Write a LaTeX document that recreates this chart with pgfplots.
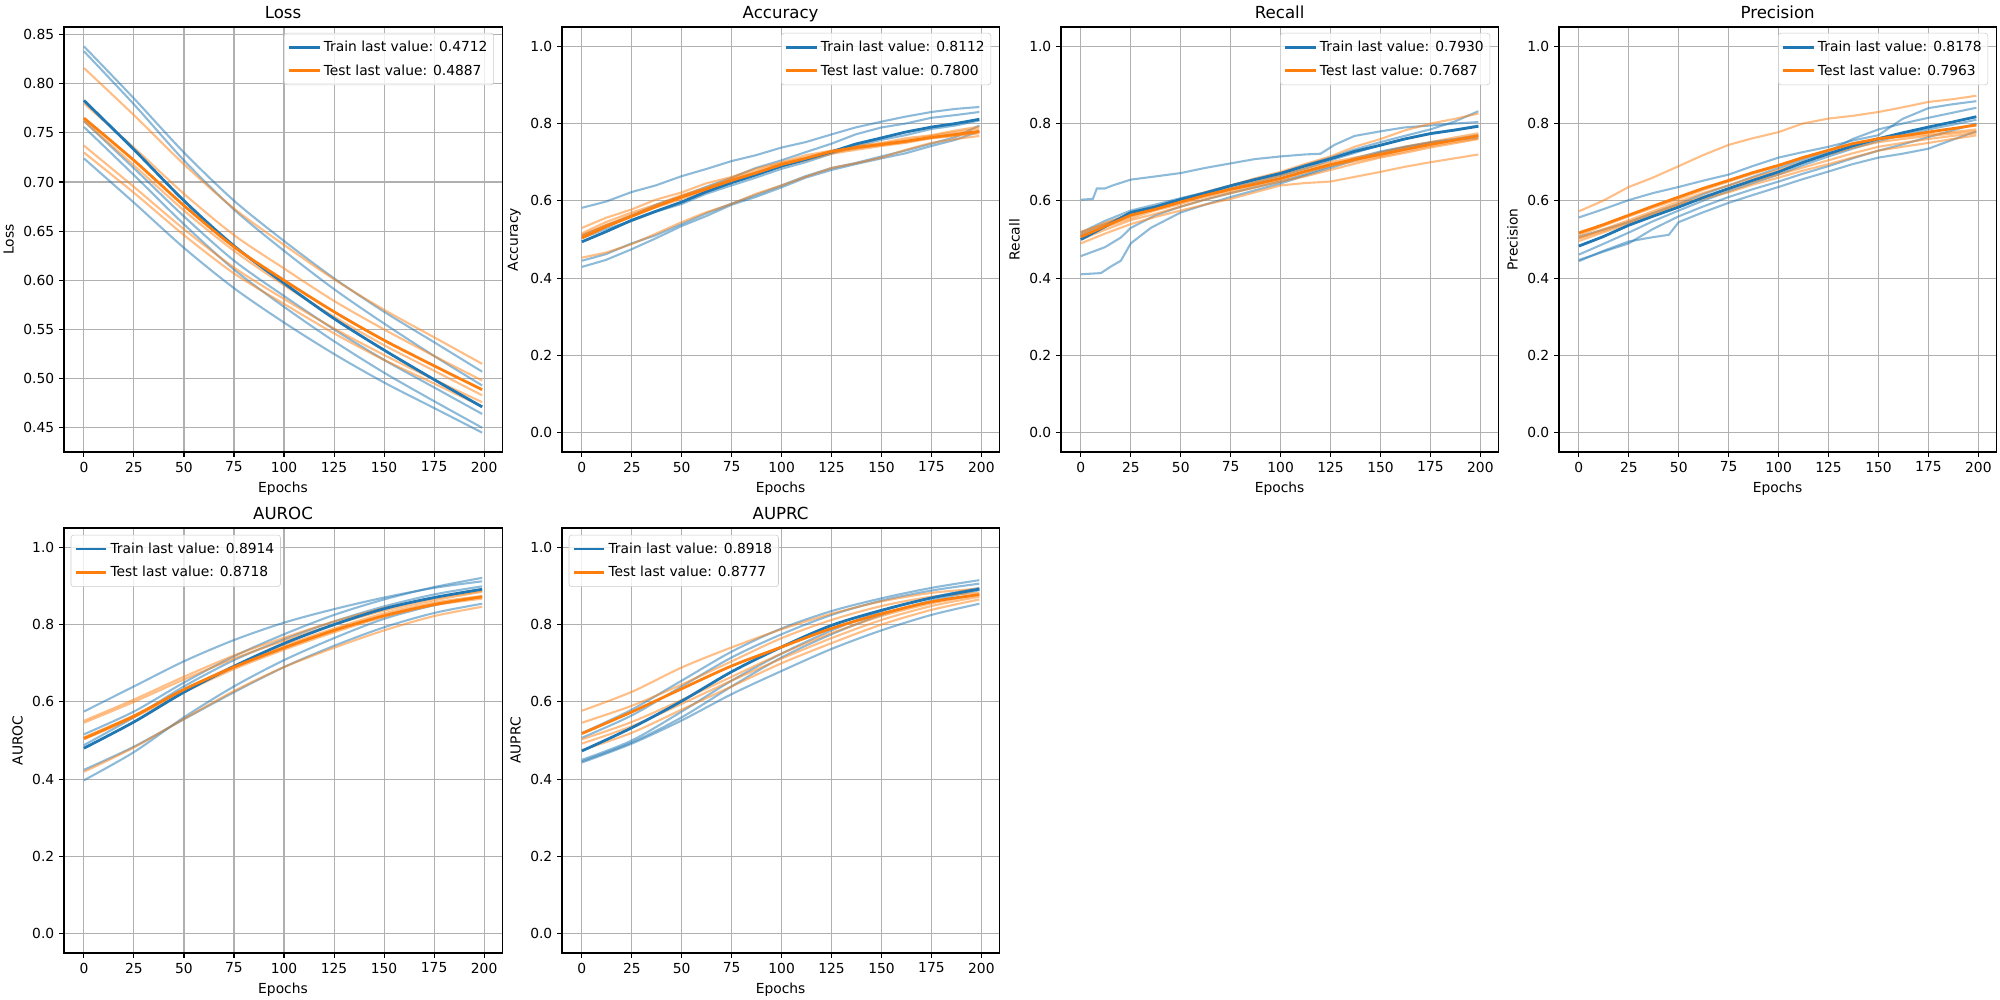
\documentclass[border=0pt]{standalone}
\usepackage{fontspec}
\setmainfont{DejaVu Sans}
\usepackage{pgfplots}
\usepackage{pgfplotstable}
\pgfplotsset{compat=1.18}
\definecolor{tabblue}{HTML}{1F77B4}
\definecolor{taborange}{HTML}{FF7F0E}
\definecolor{gridgray}{HTML}{B0B0B0}

\pgfplotsset{
  thinb/.style={color=tabblue, draw opacity=0.5, line width=1.5bp, forget plot},
  thino/.style={color=taborange, draw opacity=0.5, line width=1.5bp, forget plot},
  meanb/.style={color=tabblue, line width=2bp},
  meano/.style={color=taborange, line width=2bp},
  panel/.style={
    scale only axis, width=314.8bp, height=306bp, anchor=south west,
    xmin=-9.95, xmax=208.95, xtick={0,25,...,200},
    grid=major, grid style={gridgray, line width=0.8bp},
    axis line style={line width=0.8bp},
    tick align=outside, tick pos=left,
    major tick length=3.5bp, tick style={black, line width=0.8bp},
    /pgf/number format/assume math mode=true,
    ticklabel style={font=\fontsize{10}{12}\selectfont},
    every axis label/.append style={font=\fontsize{10}{12}\selectfont},
    every axis title/.style={at={(0.5,1)}, anchor=base, yshift=6.3bp,
      font=\fontsize{12}{14.4}\selectfont},
    xlabel={Epochs},
    legend cell align=left,
    legend image code/.code={\draw[##1] (0bp,0bp) -- (22bp,0bp);},
    legend style={draw=black!20, rounded corners=2bp, fill=white,
      fill opacity=0.8, text opacity=1, font=\fontsize{10}{12}\selectfont,
      inner xsep=2.5bp, inner ysep=3.5bp, row sep=4bp,
      nodes={inner sep=2bp}},
  },
  unit/.style={ymin=-0.05, ymax=1.05, ytick={0,0.2,0.4,0.6,0.8,1.0},
    yticklabel style={/pgf/number format/fixed, /pgf/number format/fixed zerofill, /pgf/number format/precision=1}},
  legNE/.style={legend style={at={(0.9816,0.986)}, anchor=north east}},
  legNW/.style={legend style={at={(0.0153,0.984)}, anchor=north west}},
}

\newcommand{\allten}[1]{%
  \addplot[thinb] table[x=t,y=b1]{#1};
  \addplot[thinb] table[x=t,y=b2]{#1};
  \addplot[thinb] table[x=t,y=b3]{#1};
  \addplot[thinb] table[x=t,y=b4]{#1};
  \addplot[thinb] table[x=t,y=b5]{#1};
  \addplot[thino] table[x=t,y=o1]{#1};
  \addplot[thino] table[x=t,y=o2]{#1};
  \addplot[thino] table[x=t,y=o3]{#1};
  \addplot[thino] table[x=t,y=o4]{#1};
  \addplot[thino] table[x=t,y=o5]{#1};
  \addplot[meanb] table[x=t,y=bm]{#1};
  \addplot[meano] table[x=t,y=om]{#1};
}

\pgfplotstableread{
t b1 b2 b3 b4 b5 o1 o2 o3 o4 o5 bm om
0 0.838 0.833 0.762 0.756 0.724 0.816 0.780 0.762 0.737 0.730 0.783 0.765
25 0.785 0.779 0.714 0.707 0.679 0.768 0.735 0.717 0.695 0.689 0.733 0.722
50 0.730 0.722 0.665 0.657 0.633 0.718 0.688 0.671 0.652 0.646 0.681 0.676
75 0.681 0.672 0.620 0.611 0.592 0.673 0.646 0.630 0.613 0.607 0.635 0.634
100 0.640 0.630 0.584 0.573 0.557 0.636 0.612 0.595 0.581 0.576 0.597 0.600
125 0.602 0.591 0.550 0.538 0.525 0.601 0.579 0.563 0.551 0.546 0.561 0.568
150 0.568 0.556 0.519 0.506 0.496 0.570 0.550 0.534 0.524 0.519 0.529 0.539
175 0.537 0.523 0.491 0.477 0.470 0.542 0.523 0.508 0.499 0.495 0.499 0.513
199 0.507 0.493 0.464 0.450 0.445 0.515 0.498 0.483 0.476 0.4715 0.4712 0.4887
}\lossT

\pgfplotstableread{
t b1 b2 b3 b4 b5 o1 o2 o3 o4 o5 bm om
0 0.582 0.510 0.504 0.445 0.429 0.530 0.516 0.512 0.509 0.453 0.494 0.504
12 0.598 0.536 0.527 0.462 0.447 0.556 0.545 0.536 0.538 0.466 0.520 0.533
25 0.623 0.562 0.548 0.490 0.475 0.578 0.570 0.565 0.560 0.488 0.550 0.560
37 0.640 0.590 0.572 0.511 0.503 0.603 0.590 0.586 0.583 0.515 0.573 0.585
50 0.664 0.612 0.592 0.540 0.535 0.622 0.615 0.612 0.605 0.545 0.597 0.610
62 0.682 0.636 0.618 0.567 0.560 0.645 0.634 0.632 0.625 0.570 0.623 0.630
75 0.703 0.660 0.640 0.593 0.590 0.662 0.658 0.655 0.648 0.592 0.647 0.653
87 0.718 0.685 0.660 0.615 0.610 0.683 0.677 0.672 0.670 0.618 0.667 0.672
100 0.738 0.705 0.683 0.640 0.635 0.700 0.698 0.695 0.690 0.640 0.690 0.694
112 0.752 0.726 0.700 0.664 0.660 0.718 0.712 0.708 0.705 0.662 0.707 0.710
125 0.772 0.748 0.722 0.685 0.680 0.730 0.728 0.725 0.722 0.685 0.727 0.728
137 0.790 0.772 0.742 0.698 0.695 0.742 0.738 0.735 0.732 0.697 0.747 0.738
150 0.805 0.790 0.758 0.715 0.710 0.750 0.748 0.745 0.742 0.712 0.763 0.746
162 0.818 0.800 0.770 0.730 0.723 0.762 0.757 0.752 0.750 0.732 0.778 0.754
175 0.830 0.815 0.786 0.748 0.742 0.770 0.768 0.765 0.762 0.750 0.791 0.764
187 0.838 0.822 0.795 0.765 0.758 0.782 0.778 0.770 0.768 0.760 0.800 0.772
199 0.843 0.830 0.808 0.795 0.780 0.792 0.787 0.778 0.775 0.768 0.8112 0.7800
}\accT

\pgfplotstableread{
t b2 b3 o1 o2 o3 o4 o5 bm om
0 0.518 0.512 0.520 0.515 0.510 0.500 0.490 0.500 0.507
12 0.548 0.540 0.540 0.543 0.532 0.525 0.515 0.533 0.534
25 0.575 0.568 0.560 0.565 0.555 0.550 0.540 0.570 0.563
37 0.590 0.583 0.583 0.584 0.575 0.566 0.558 0.584 0.578
50 0.607 0.600 0.600 0.600 0.592 0.585 0.575 0.604 0.597
62 0.622 0.615 0.622 0.617 0.610 0.603 0.590 0.620 0.614
75 0.640 0.632 0.640 0.632 0.625 0.620 0.605 0.639 0.630
87 0.655 0.648 0.658 0.650 0.640 0.634 0.622 0.655 0.643
100 0.672 0.665 0.675 0.665 0.655 0.650 0.640 0.671 0.658
112 0.692 0.683 0.695 0.683 0.673 0.663 0.646 0.690 0.676
125 0.712 0.705 0.715 0.700 0.690 0.680 0.650 0.709 0.694
137 0.733 0.724 0.740 0.712 0.702 0.696 0.662 0.728 0.707
150 0.752 0.745 0.760 0.725 0.715 0.712 0.675 0.744 0.720
162 0.768 0.760 0.782 0.740 0.728 0.724 0.688 0.760 0.733
175 0.785 0.775 0.800 0.752 0.742 0.738 0.700 0.774 0.746
187 0.805 0.784 0.812 0.764 0.752 0.749 0.710 0.783 0.757
199 0.832 0.795 0.826 0.775 0.762 0.760 0.720 0.7930 0.7687
}\recT

\pgfplotstableread{
t b1 b2 b3 b4 o1 o2 o3 o4 o5 bm om
0 0.557 0.507 0.461 0.447 0.573 0.510 0.503 0.503 0.496 0.483 0.517
12 0.578 0.525 0.488 0.468 0.600 0.535 0.526 0.522 0.518 0.507 0.538
25 0.602 0.545 0.518 0.490 0.636 0.560 0.550 0.545 0.540 0.537 0.563
37 0.620 0.568 0.547 0.527 0.660 0.582 0.573 0.568 0.563 0.560 0.586
50 0.636 0.592 0.575 0.560 0.690 0.605 0.598 0.592 0.588 0.584 0.610
62 0.652 0.617 0.600 0.585 0.718 0.628 0.620 0.611 0.605 0.608 0.632
75 0.668 0.640 0.625 0.610 0.745 0.650 0.640 0.630 0.622 0.632 0.653
87 0.690 0.662 0.646 0.630 0.762 0.670 0.660 0.650 0.642 0.653 0.673
100 0.712 0.685 0.668 0.650 0.778 0.690 0.680 0.668 0.660 0.675 0.692
112 0.726 0.706 0.692 0.670 0.800 0.710 0.700 0.686 0.678 0.699 0.712
125 0.740 0.728 0.715 0.690 0.813 0.730 0.720 0.705 0.695 0.722 0.731
137 0.756 0.760 0.735 0.710 0.820 0.747 0.737 0.723 0.712 0.742 0.748
150 0.770 0.785 0.755 0.730 0.830 0.760 0.752 0.740 0.730 0.761 0.761
162 0.812 0.800 0.770 0.746 0.842 0.766 0.760 0.750 0.740 0.776 0.768
175 0.840 0.815 0.785 0.765 0.856 0.772 0.768 0.760 0.750 0.791 0.778
187 0.850 0.828 0.797 0.782 0.863 0.778 0.774 0.768 0.760 0.804 0.787
199 0.858 0.841 0.810 0.800 0.872 0.785 0.780 0.775 0.7695 0.8178 0.7963
}\preT

\pgfplotstableread{
t b1 b2 b3 b4 b5 o1 o2 o3 o4 o5 bm om
0 0.575 0.516 0.488 0.424 0.397 0.551 0.546 0.508 0.503 0.419 0.480 0.5054
25 0.640 0.575 0.560 0.484 0.470 0.606 0.600 0.565 0.560 0.482 0.548 0.563
50 0.705 0.650 0.640 0.555 0.560 0.665 0.658 0.632 0.625 0.556 0.625 0.632
75 0.760 0.718 0.708 0.625 0.640 0.720 0.712 0.693 0.685 0.628 0.692 0.690
100 0.805 0.775 0.762 0.690 0.708 0.766 0.758 0.745 0.735 0.690 0.751 0.740
125 0.840 0.825 0.808 0.745 0.765 0.808 0.800 0.790 0.780 0.740 0.800 0.785
150 0.870 0.865 0.847 0.793 0.815 0.843 0.836 0.829 0.820 0.785 0.841 0.823
175 0.895 0.897 0.878 0.830 0.850 0.868 0.863 0.857 0.850 0.822 0.870 0.852
199 0.912 0.921 0.899 0.854 0.873 0.887 0.885 0.874 0.867 0.846 0.8914 0.8718
}\aurocT

\pgfplotstableread{
t b1 b2 b3 b4 b5 o1 o2 o3 o4 o5 bm om
0 0.519 0.507 0.450 0.446 0.443 0.577 0.546 0.503 0.492 0.475 0.473 0.518
25 0.580 0.565 0.500 0.495 0.492 0.626 0.590 0.548 0.537 0.520 0.533 0.574
50 0.655 0.640 0.575 0.560 0.552 0.689 0.645 0.605 0.595 0.580 0.602 0.634
75 0.730 0.715 0.655 0.640 0.620 0.741 0.705 0.665 0.655 0.640 0.678 0.693
100 0.790 0.775 0.725 0.715 0.680 0.788 0.765 0.725 0.712 0.700 0.742 0.742
125 0.835 0.825 0.785 0.775 0.737 0.828 0.812 0.778 0.765 0.752 0.798 0.790
150 0.868 0.862 0.835 0.825 0.785 0.860 0.848 0.822 0.812 0.800 0.837 0.828
175 0.895 0.888 0.870 0.862 0.825 0.882 0.872 0.855 0.848 0.838 0.869 0.859
199 0.915 0.906 0.895 0.889 0.854 0.893 0.882 0.877 0.872 0.865 0.8918 0.8777
}\auprcT

\begin{document}
\begin{tikzpicture}
\fill[white] (0,0) rectangle (1440bp,720bp);
\path[use as bounding box] (0,0) rectangle (1440bp,720bp);

% Loss
\begin{axis}[panel, legNE, at={(46.08bp,394.56bp)}, width=315.4bp,
  title={Loss}, ylabel={Loss}, ymin=0.4253, ymax=0.8577,
  ytick={0.45,0.50,0.55,0.60,0.65,0.70,0.75,0.80,0.85},
  yticklabel style={/pgf/number format/fixed, /pgf/number format/fixed zerofill, /pgf/number format/precision=2},
  every axis plot/.append style={smooth}]
\allten{\lossT}
\legend{Train last value: 0.4712, Test last value: 0.4887}
\end{axis}

% Accuracy
\begin{axis}[panel, unit, legNE, at={(404.64bp,394.56bp)},
  title={Accuracy}, ylabel={Accuracy}]
\allten{\accT}
\legend{Train last value: 0.8112, Test last value: 0.7800}
\end{axis}

% Recall
\begin{axis}[panel, unit, legNE, at={(763.92bp,394.56bp)},
  title={Recall}, ylabel={Recall}]
\addplot[thinb] coordinates {(0,0.603)(6,0.605)(8,0.632)(12,0.632)(16,0.640)(25,0.655)(37,0.663)(50,0.672)(62,0.685)(75,0.697)(87,0.708)(100,0.715)(112,0.720)(120,0.722)(127,0.745)(137,0.768)(150,0.780)(162,0.790)(175,0.795)(187,0.800)(199,0.804)};
\addplot[thinb] table[x=t,y=b2]{\recT};
\addplot[thinb] table[x=t,y=b3]{\recT};
\addplot[thinb] coordinates {(0,0.457)(12,0.480)(20,0.505)(25,0.530)(37,0.562)(50,0.585)(62,0.603)(75,0.620)(87,0.635)(100,0.650)(112,0.668)(125,0.690)(137,0.710)(150,0.728)(162,0.740)(175,0.752)(187,0.760)(199,0.770)};
\addplot[thinb] coordinates {(0,0.410)(10,0.413)(15,0.430)(20,0.445)(25,0.490)(35,0.530)(50,0.570)(62,0.590)(75,0.610)(87,0.627)(100,0.645)(112,0.665)(125,0.685)(137,0.705)(150,0.725)(162,0.738)(175,0.750)(187,0.757)(199,0.764)};
\addplot[thino] table[x=t,y=o1]{\recT};
\addplot[thino] table[x=t,y=o2]{\recT};
\addplot[thino] table[x=t,y=o3]{\recT};
\addplot[thino] table[x=t,y=o4]{\recT};
\addplot[thino] table[x=t,y=o5]{\recT};
\addplot[meanb] table[x=t,y=bm]{\recT};
\addplot[meano] table[x=t,y=om]{\recT};
\legend{Train last value: 0.7930, Test last value: 0.7687}
\end{axis}

% Precision
\begin{axis}[panel, unit, legNE, at={(1122.48bp,394.56bp)},
  title={Precision}, ylabel={Precision}]
\addplot[thinb] table[x=t,y=b1]{\preT};
\addplot[thinb] table[x=t,y=b2]{\preT};
\addplot[thinb] table[x=t,y=b3]{\preT};
\addplot[thinb] table[x=t,y=b4]{\preT};
\addplot[thinb] coordinates {(0,0.444)(12,0.470)(25,0.495)(37,0.506)(45,0.512)(50,0.545)(62,0.570)(75,0.595)(87,0.615)(100,0.636)(112,0.656)(125,0.676)(137,0.695)(150,0.712)(162,0.722)(175,0.735)(187,0.758)(199,0.780)};
\addplot[thino] table[x=t,y=o1]{\preT};
\addplot[thino] table[x=t,y=o2]{\preT};
\addplot[thino] table[x=t,y=o3]{\preT};
\addplot[thino] table[x=t,y=o4]{\preT};
\addplot[thino] table[x=t,y=o5]{\preT};
\addplot[meanb] table[x=t,y=bm]{\preT};
\addplot[meano] table[x=t,y=om]{\preT};
\legend{Train last value: 0.8178, Test last value: 0.7963}
\end{axis}

% AUROC
\begin{axis}[panel, unit, legNW, at={(46.08bp,33.84bp)}, width=315.4bp,
  title={AUROC}, ylabel={AUROC}, every axis plot/.append style={smooth}]
\allten{\aurocT}
\legend{Train last value: 0.8914, Test last value: 0.8718}
\end{axis}

% AUPRC
\begin{axis}[panel, unit, legNW, at={(404.64bp,33.84bp)},
  title={AUPRC}, ylabel={AUPRC}, every axis plot/.append style={smooth}]
\allten{\auprcT}
\legend{Train last value: 0.8918, Test last value: 0.8777}
\end{axis}
\end{tikzpicture}
\end{document}
